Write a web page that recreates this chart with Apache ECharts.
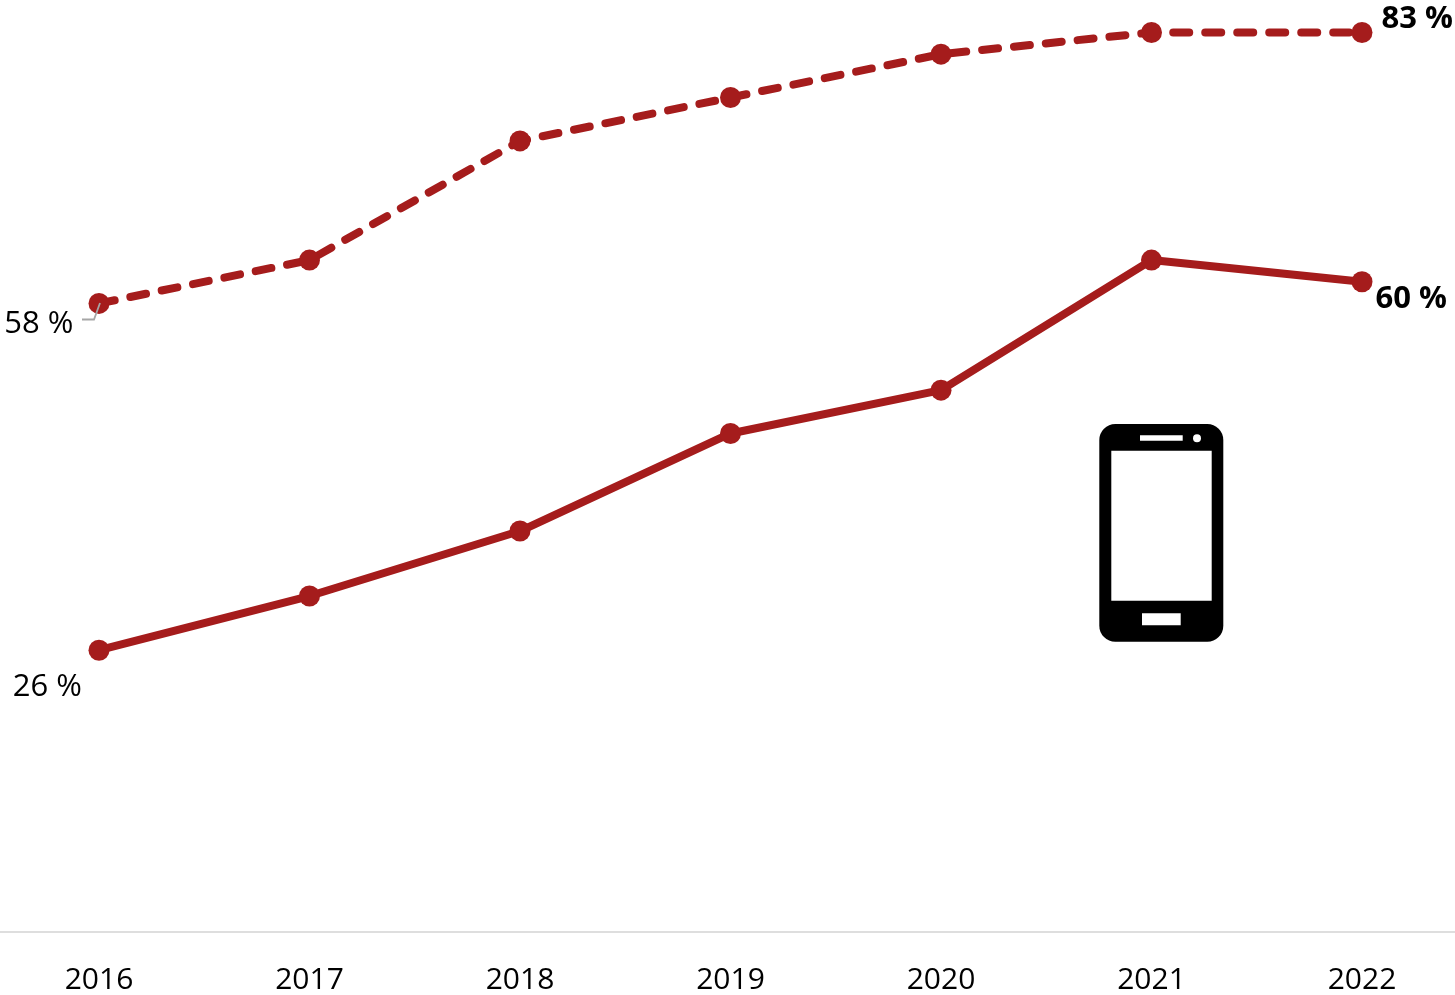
<!DOCTYPE html>
<html>
<head>
<meta charset="utf-8">
<style>html,body{margin:0;padding:0;background:#fff}#c{width:1455px;height:995px}</style>
<script src="https://cdn.jsdelivr.net/npm/echarts@6/dist/echarts.min.js"></script>
</head>
<body>
<div id="c"></div>
<script>
const years = ['2016','2017','2018','2019','2020','2021','2022'];
const dashedValues = [58,62,73,77,81,83,83];
const solidValues = [26,31,37,46,50,62,60];
const RED = '#A51C1C';
const FONT = '"Open Sans"';
function labelled(values, first, last){
  return values.map((v,i)=>{
    if(i===0) return {value:v,label:{show:true,formatter:v+' %',fontFamily:FONT,fontSize:31,color:'#000',position:'left',offset:first}};
    if(i===values.length-1) return {value:v,label:{show:true,formatter:v+' %',fontFamily:FONT,fontSize:31,fontWeight:'bold',color:'#000',position:'right',offset:last}};
    return v;
  });
}
const chart = echarts.init(document.getElementById('c'),null,{renderer:'canvas'});
chart.setOption({
  animation:false,
  backgroundColor:'#fff',
  grid:{left:-6.25,top:0,width:1473.5,height:932,containLabel:false,outerBoundsMode:'none'},
  xAxis:{type:'category',data:years,boundaryGap:true,
    axisLine:{show:true,lineStyle:{color:'#DEDEDE',width:2}},
    axisTick:{show:false},
    axisLabel:{show:true,color:'#000',fontFamily:FONT,fontSize:30,margin:33.5,interval:0}},
  yAxis:{type:'value',min:0,max:86,show:false,splitLine:{show:false}},
  series:[
    {type:'line',data:labelled(dashedValues,[-10,20.5],[4,-13]),symbol:'circle',symbolSize:21,
     lineStyle:{color:RED,width:8,type:[16,16],cap:'round'},itemStyle:{color:RED},z:3},
    {type:'line',data:labelled(solidValues,[-1.5,37],[-2,17]),symbol:'circle',symbolSize:21,
     lineStyle:{color:RED,width:8},itemStyle:{color:RED},z:3}
  ],
  graphic:[
    {type:'polyline',z:100,shape:{points:[[82,319.5],[94,319.5],[100,303]]},style:{stroke:'#A6A6A6',lineWidth:1.8,fill:null}},
    {type:'rect',z:50,shape:{x:1099.3,y:424,width:124,height:217.7,r:16},style:{fill:'#000'}},
    {type:'rect',z:51,shape:{x:1111.3,y:450.7,width:100.4,height:150},style:{fill:'#fff'}},
    {type:'rect',z:51,shape:{x:1140,y:435.3,width:42.7,height:5.4},style:{fill:'#fff'}},
    {type:'circle',z:51,shape:{cx:1197,cy:438.3,r:4},style:{fill:'#fff'}},
    {type:'rect',z:51,shape:{x:1142,y:613.3,width:38.7,height:12},style:{fill:'#fff'}}
  ]
});
</script>
</body>
</html>
